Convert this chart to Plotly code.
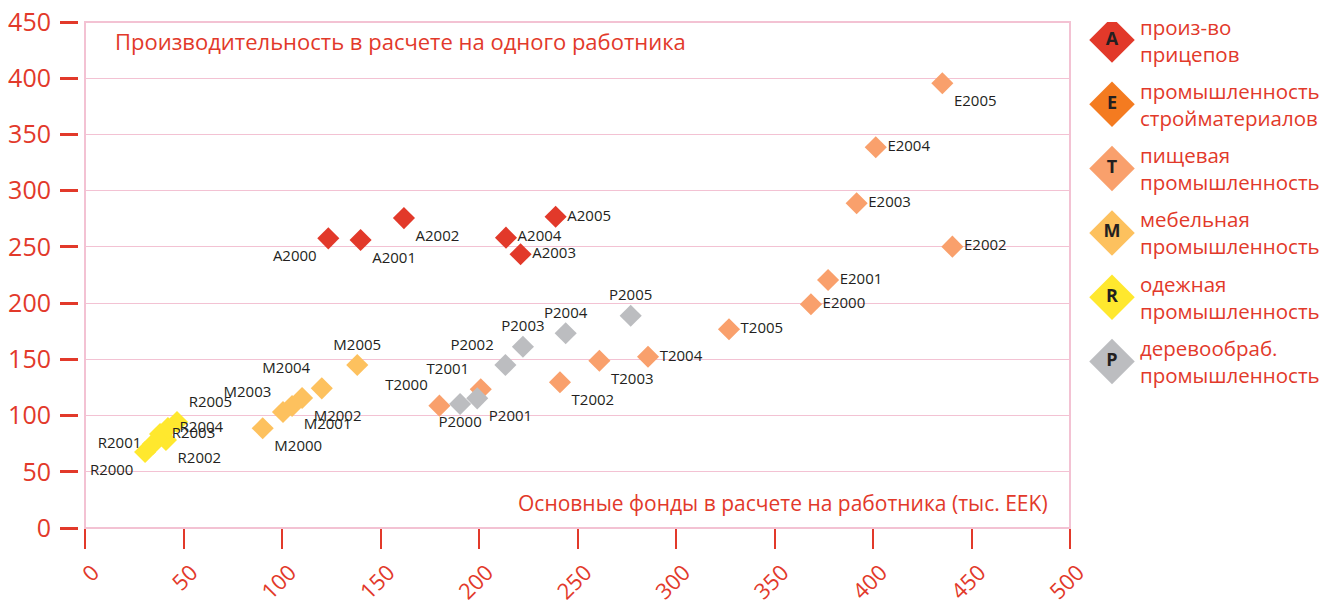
import plotly.graph_objects as go

# данные (тыс. EEK на работника / производительность)
years = [2000, 2001, 2002, 2003, 2004, 2005]

A_x = [123.5, 139.9, 161.9, 221.1, 213.7, 238.9]
A_y = [257.6, 256.1, 275.6, 243.5, 258.2, 276.8]
E_x = [368.5, 377.2, 440.3, 391.7, 401.4, 435.2]
E_y = [199.0, 220.6, 250.2, 288.8, 338.6, 395.5]
T_x = [179.9, 200.9, 241.1, 261.1, 285.8, 326.9]
T_y = [108.8, 123.4, 129.6, 148.8, 152.3, 176.7]
M_x = [90.2, 105.1, 110.2, 100.5, 120.2, 138.2]
M_y = [88.7, 108.5, 115.6, 103.2, 124.2, 145.0]
R_x = [30.5, 34.5, 41.1, 38.1, 42.1, 46.7]
R_y = [67.6, 74.7, 78.3, 83.6, 88.9, 94.3]
P_x = [190.4, 199.1, 213.4, 222.3, 244.0, 277.0]
P_y = [110.3, 115.3, 145.0, 161.2, 173.2, 188.8]

legend_letters = ["A", "E", "T", "M", "R", "P"]
legend_names = ["произ-во<br>прицепов", "промышленность<br>стройматериалов",
                "пищевая<br>промышленность", "мебельная<br>промышленность",
                "одежная<br>промышленность", "деревообраб.<br>промышленность"]

x_ticks = [0, 50, 100, 150, 200, 250, 300, 350, 400, 450, 500]
y_ticks = [0, 50, 100, 150, 200, 250, 300, 350, 400, 450]

RED = "#E2392A"
PINK = "#F3C2D3"
FONT = "Open Sans"
OFF = 8  # отступ body в html-странице
W, H = 1329 - OFF, 601 - OFF

legend_colors = ["#E2392A", "#F47B20", "#F9A06C", "#FDC15E", "#FFE82E", "#BCBDC0"]
point_colors = {"A": "#E2392A", "E": "#F9A06C", "T": "#F9A06C",
                "M": "#FDC15E", "R": "#FFE82E", "P": "#BCBDC0"}

text_pos = {
    "A": ["bottom left", "bottom right", "bottom right", "middle right", "middle right", "middle right"],
    "E": ["middle right", "middle right", "middle right", "middle right", "middle right", "bottom right"],
    "T": ["top left", "top left", "bottom right", "bottom right", "middle right", "middle right"],
    "M": ["bottom right", "bottom right", "bottom right", "top left", "top left", "top center"],
    "R": ["bottom left", "middle left", "bottom right", "middle right", "middle right", "top right"],
    "P": ["bottom center", "bottom right", "top left", "top center", "top center", "top center"],
}

series = [("A", A_x, A_y), ("E", E_x, E_y), ("T", T_x, T_y),
          ("M", M_x, M_y), ("R", R_x, R_y), ("P", P_x, P_y)]

fig = go.Figure()

for key, xs, ys in series:
    fig.add_trace(go.Scatter(
        x=xs, y=ys, mode="markers+text",
        text=[key + str(yr) for yr in years],
        textposition=text_pos[key],
        textfont=dict(family=FONT, size=15, color="#231F20"),
        marker=dict(symbol="diamond", size=17, color=point_colors[key], line=dict(width=0)),
        showlegend=False, hoverinfo="x+y+text"))

# легенда справа (отдельные оси, 1 ед. = 1 px)
leg_y = [40 + 64.3 * i for i in range(len(legend_letters))]
fig.add_trace(go.Scatter(
    x=[34] * len(legend_letters), y=leg_y, mode="markers+text",
    text=["<b>" + s + "</b>" for s in legend_letters], textposition="middle center",
    textfont=dict(family=FONT, size=18, color="#231F20"),
    marker=dict(symbol="diamond", size=35, color=legend_colors, line=dict(width=0)),
    xaxis="x2", yaxis="y2", showlegend=False, hoverinfo="skip"))

for name, yy in zip(legend_names, leg_y):
    fig.add_annotation(x=60, y=yy, xref="x2", yref="y2", text=name, showarrow=False,
                       xanchor="left", yanchor="middle", align="left",
                       font=dict(family=FONT, size=20.5, color=RED))

fig.add_annotation(x=0.028, y=0.962, xref="x domain", yref="y domain",
                   text="Производительность в расчете на одного работника",
                   showarrow=False, xanchor="left", yanchor="middle",
                   font=dict(family=FONT, size=22, color=RED))
fig.add_annotation(x=0.98, y=0.049, xref="x domain", yref="y domain",
                   text="Основные фонды в расчете на работника (тыс. EEK)",
                   showarrow=False, xanchor="right", yanchor="middle",
                   font=dict(family=FONT, size=21, color=RED))

# рамка области построения
fig.add_shape(type="rect", xref="x domain", yref="y domain", x0=0, x1=1, y0=0, y1=1,
              line=dict(color=PINK, width=2), layer="below")

fig.update_layout(
    width=W, height=H,
    margin=dict(l=0, r=0, t=22 - OFF, b=601 - 528),
    paper_bgcolor="white", plot_bgcolor="white",
    font=dict(family=FONT, color=RED),
    xaxis=dict(domain=[(85 - OFF) / W, (1070 - OFF) / W], range=[0, 500], tickvals=x_ticks,
               showgrid=False, zeroline=False, showline=False, automargin=False,
               ticks="outside", ticklen=20, tickwidth=2, tickcolor=RED,
               tickangle=-45, ticklabelshift=8, ticklabelstandoff=2,
               ticklabeloverflow="allow",
               tickfont=dict(family=FONT, size=22, color=RED)),
    yaxis=dict(range=[0, 450], tickvals=y_ticks, anchor="free", position=(78 - OFF) / W,
               showgrid=True, gridcolor=PINK, gridwidth=1, zeroline=False, showline=False,
               automargin=False, ticklabelstandoff=4, ticklabeloverflow="allow",
               ticks="outside", ticklen=18, tickwidth=3, tickcolor=RED,
               tickfont=dict(family=FONT, size=25, color=RED)),
    xaxis2=dict(domain=[(1078 - OFF) / W, 1.0], range=[0, 251], visible=False, anchor="y2"),
    yaxis2=dict(domain=[0, 1], range=[528, 22], visible=False, anchor="x2"),
)

fig.write_html("out.html")
